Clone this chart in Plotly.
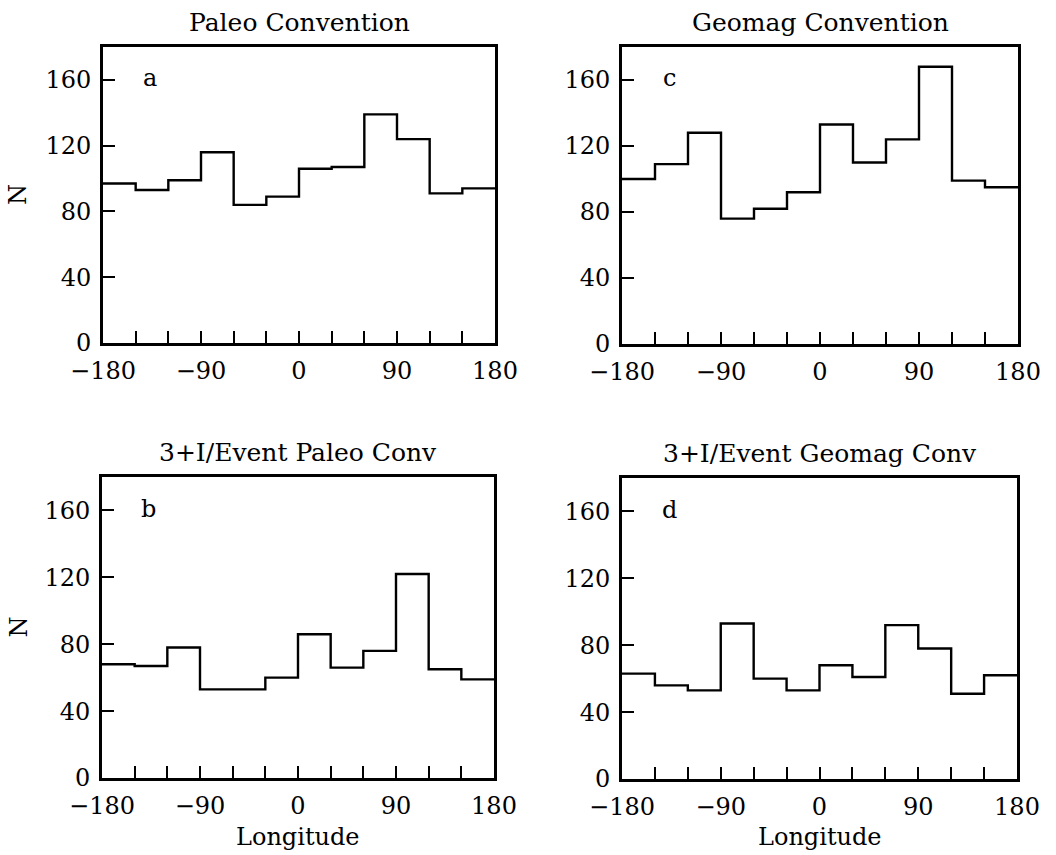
import plotly.graph_objects as go

# Bin edges (longitude, degrees)
edges = [-180, -150, -120, -90, -60, -30, 0, 30, 60, 90, 120, 150, 180]

# Counts per 30-degree bin
paleo = [97, 93, 99, 116, 84, 89, 106, 107, 139, 124, 91, 94]
geomag = [100, 109, 128, 76, 82, 92, 133, 110, 124, 168, 99, 95]
paleo_3i = [68, 67, 78, 53, 53, 60, 86, 66, 76, 122, 65, 59]
geomag_3i = [63, 56, 53, 93, 60, 53, 68, 61, 92, 78, 51, 62]

titles = ["Paleo Convention", "Geomag Convention",
          "3+I/Event Paleo Conv", "3+I/Event Geomag Conv"]
letters = ["a", "c", "b", "d"]

x_tickvals = edges
x_ticktext = ["\u2212180", "", "", "\u221290", "", "", "0", "", "", "90", "", "", "180"]
y_tickvals = [0, 40, 80, 120, 160]
y_ticktext = ["0", "40", "80", "120", "160"]

FONT = "DejaVu Serif"
W, H = 1056, 855

# panel pixel boxes: (left, right, top, bottom)
boxes = [(103, 495, 47, 343), (622, 1018, 47, 344),
         (102, 494, 477, 778), (622, 1017, 478, 779)]
series = [paleo, geomag, paleo_3i, geomag_3i]

fig = go.Figure()
annotations = []
for i, (box, vals) in enumerate(zip(boxes, series)):
    l, r, t, b = box
    xa = "xaxis" if i == 0 else f"xaxis{i+1}"
    ya = "yaxis" if i == 0 else f"yaxis{i+1}"
    xref = "x" if i == 0 else f"x{i+1}"
    yref = "y" if i == 0 else f"y{i+1}"
    fig.add_trace(go.Scatter(
        x=edges, y=vals + [vals[-1]], mode="lines",
        line=dict(shape="hv", color="black", width=2.4),
        xaxis=xref, yaxis=yref, showlegend=False, hoverinfo="skip"))
    common = dict(showline=True, linecolor="black", linewidth=3, mirror=True,
                  ticks="inside", ticklen=12, tickwidth=1.5, tickcolor="black",
                  showgrid=False, zeroline=False, automargin=False,
                  tickfont=dict(family=FONT, size=24, color="black"))
    fig.update_layout({
        xa: dict(domain=[l / W, r / W], range=[-180, 180], anchor=yref,
                 tickmode="array", tickvals=x_tickvals, ticktext=x_ticktext,
                 ticklabelstandoff=4, **common),
        ya: dict(domain=[1 - b / H, 1 - t / H], range=[0, 180], anchor=xref,
                 tickmode="array", tickvals=y_tickvals, ticktext=y_ticktext,
                 ticklabelstandoff=4, **common),
    })
    # panel title
    annotations.append(dict(text=titles[i], x=(l + r) / 2 / W, y=1 - (t - 25) / H,
                            xref="paper", yref="paper", showarrow=False,
                            xanchor="center", yanchor="middle",
                            font=dict(family=FONT, size=25, color="black")))
    # panel letter
    annotations.append(dict(text=letters[i], x=-137, y=161, xref=xref, yref=yref,
                            showarrow=False, xanchor="center", yanchor="middle",
                            font=dict(family=FONT, size=24, color="black")))

# y-axis labels "N" on left panels
for (l, r, t, b) in (boxes[0], boxes[2]):
    annotations.append(dict(text="N", x=18 / W, y=1 - (t + b) / 2 / H,
                            xref="paper", yref="paper", showarrow=False,
                            textangle=-90, xanchor="center", yanchor="middle",
                            font=dict(family=FONT, size=24, color="black")))
# x-axis labels on bottom panels
for (l, r, t, b) in (boxes[2], boxes[3]):
    annotations.append(dict(text="Longitude", x=(l + r) / 2 / W, y=1 - 853 / H,
                            xref="paper", yref="paper", showarrow=False,
                            xanchor="center", yanchor="bottom",
                            font=dict(family=FONT, size=24, color="black")))

fig.update_layout(width=W, height=H, margin=dict(l=0, r=0, t=0, b=0),
                  paper_bgcolor="white", plot_bgcolor="white",
                  annotations=annotations)
fig.write_html("out.html")
